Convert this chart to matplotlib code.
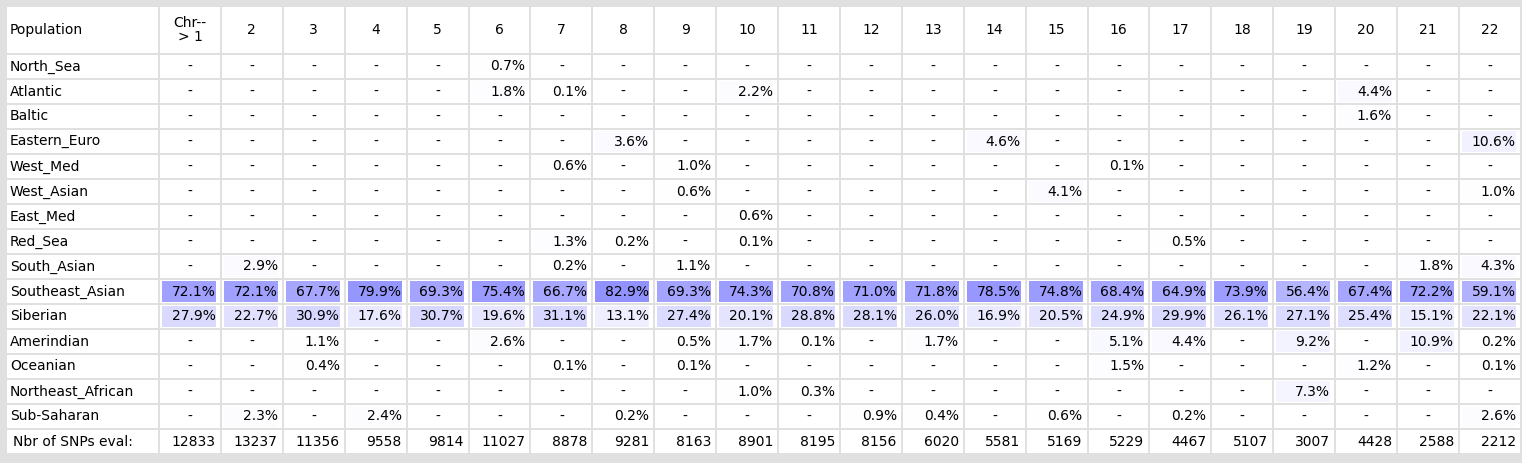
import matplotlib
matplotlib.use("Agg")
import matplotlib.pyplot as plt
from matplotlib.patches import Rectangle

chromosomes = [str(i) for i in range(1, 23)]
populations = ["North_Sea", "Atlantic", "Baltic", "Eastern_Euro", "West_Med", "West_Asian",
               "East_Med", "Red_Sea", "South_Asian", "Southeast_Asian", "Siberian", "Amerindian",
               "Oceanian", "Northeast_African", "Sub-Saharan"]

# sparse percentages: population -> {chromosome: value}
sparse = {
    "North_Sea": {6: 0.7},
    "Atlantic": {6: 1.8, 7: 0.1, 10: 2.2, 20: 4.4},
    "Baltic": {20: 1.6},
    "Eastern_Euro": {8: 3.6, 14: 4.6, 22: 10.6},
    "West_Med": {7: 0.6, 9: 1.0, 16: 0.1},
    "West_Asian": {9: 0.6, 15: 4.1, 22: 1.0},
    "East_Med": {10: 0.6},
    "Red_Sea": {7: 1.3, 8: 0.2, 10: 0.1, 17: 0.5},
    "South_Asian": {2: 2.9, 7: 0.2, 9: 1.1, 21: 1.8, 22: 4.3},
    "Amerindian": {3: 1.1, 6: 2.6, 9: 0.5, 10: 1.7, 11: 0.1, 13: 1.7, 16: 5.1, 17: 4.4,
                   19: 9.2, 21: 10.9, 22: 0.2},
    "Oceanian": {3: 0.4, 7: 0.1, 9: 0.1, 16: 1.5, 20: 1.2, 22: 0.1},
    "Northeast_African": {10: 1.0, 11: 0.3, 19: 7.3},
    "Sub-Saharan": {2: 2.3, 4: 2.4, 8: 0.2, 12: 0.9, 13: 0.4, 15: 0.6, 17: 0.2, 22: 2.6},
}
southeast_asian = [72.1, 72.1, 67.7, 79.9, 69.3, 75.4, 66.7, 82.9, 69.3, 74.3, 70.8,
                   71.0, 71.8, 78.5, 74.8, 68.4, 64.9, 73.9, 56.4, 67.4, 72.2, 59.1]
siberian = [27.9, 22.7, 30.9, 17.6, 30.7, 19.6, 31.1, 13.1, 27.4, 20.1, 28.8,
            28.1, 26.0, 16.9, 20.5, 24.9, 29.9, 26.1, 27.1, 25.4, 15.1, 22.1]
snps = [12833, 13237, 11356, 9558, 9814, 11027, 8878, 9281, 8163, 8901, 8195,
        8156, 6020, 5581, 5169, 5229, 4467, 5107, 3007, 4428, 2588, 2212]

W, H = 1522, 463
fig = plt.figure(figsize=(W / 100, H / 100), dpi=100)
fig.patch.set_facecolor("#e0e0e0")
ax = fig.add_axes([0, 0, 1, 1])
ax.set_xlim(0, W)
ax.set_ylim(H, 0)
ax.axis("off")

FS = 10
x0, w0 = 7, 151
cw = 61.9
hdr_top, hdr_h = 7, 46
row_top, rh = 55, 25


def col_left(j):
    return 160 + cw * j


def cell(x, y, w, h, color="white"):
    ax.add_patch(Rectangle((x, y), w, h, facecolor=color, edgecolor="none"))


def shade(v):
    k = 1.32 * v
    r = (255 - k) / 255
    return (r, r, 1.0)


# header row
cell(x0, hdr_top, w0, hdr_h)
ax.text(x0 + 3, hdr_top + hdr_h / 2, "Population", fontsize=FS, va="center", ha="left")
for j, c in enumerate(chromosomes):
    x = col_left(j)
    cell(x, hdr_top, cw - 2, hdr_h)
    label = "Chr--\n> 1" if j == 0 else c
    ax.text(x + (cw - 2) / 2, hdr_top + hdr_h / 2, label, fontsize=FS, va="center",
            ha="center", linespacing=1.0)

rows = []
for p in populations:
    if p == "Southeast_Asian":
        rows.append((p, southeast_asian))
    elif p == "Siberian":
        rows.append((p, siberian))
    else:
        rows.append((p, [sparse[p].get(j + 1) for j in range(22)]))

for i, (name, vals) in enumerate(rows):
    y = row_top + rh * i
    cell(x0, y, w0, rh - 2)
    ax.text(x0 + 3, y + rh / 2 - 1, name, fontsize=FS, va="center", ha="left")
    for j, v in enumerate(vals):
        x = col_left(j)
        cell(x, y, cw - 2, rh - 2)
        if v is None:
            ax.text(x + (cw - 2) / 2, y + rh / 2 - 1, "-", fontsize=FS, va="center", ha="center")
        else:
            ax.add_patch(Rectangle((x + 2, y + 1), cw - 8, rh - 4, facecolor=shade(v),
                                   edgecolor="none"))
            ax.text(x + cw - 6, y + rh / 2 - 1, f"{v:.1f}%", fontsize=FS, va="center", ha="right")

y = row_top + rh * len(rows)
cell(x0, y, w0, rh - 2)
ax.text(x0 + 6, y + rh / 2 - 1, "Nbr of SNPs eval:", fontsize=FS, va="center", ha="left")
for j, n in enumerate(snps):
    x = col_left(j)
    cell(x, y, cw - 2, rh - 2)
    ax.text(x + cw - 6, y + rh / 2 - 1, str(n), fontsize=FS, va="center", ha="right")

fig.savefig("out.png", dpi=100, facecolor=fig.get_facecolor())
